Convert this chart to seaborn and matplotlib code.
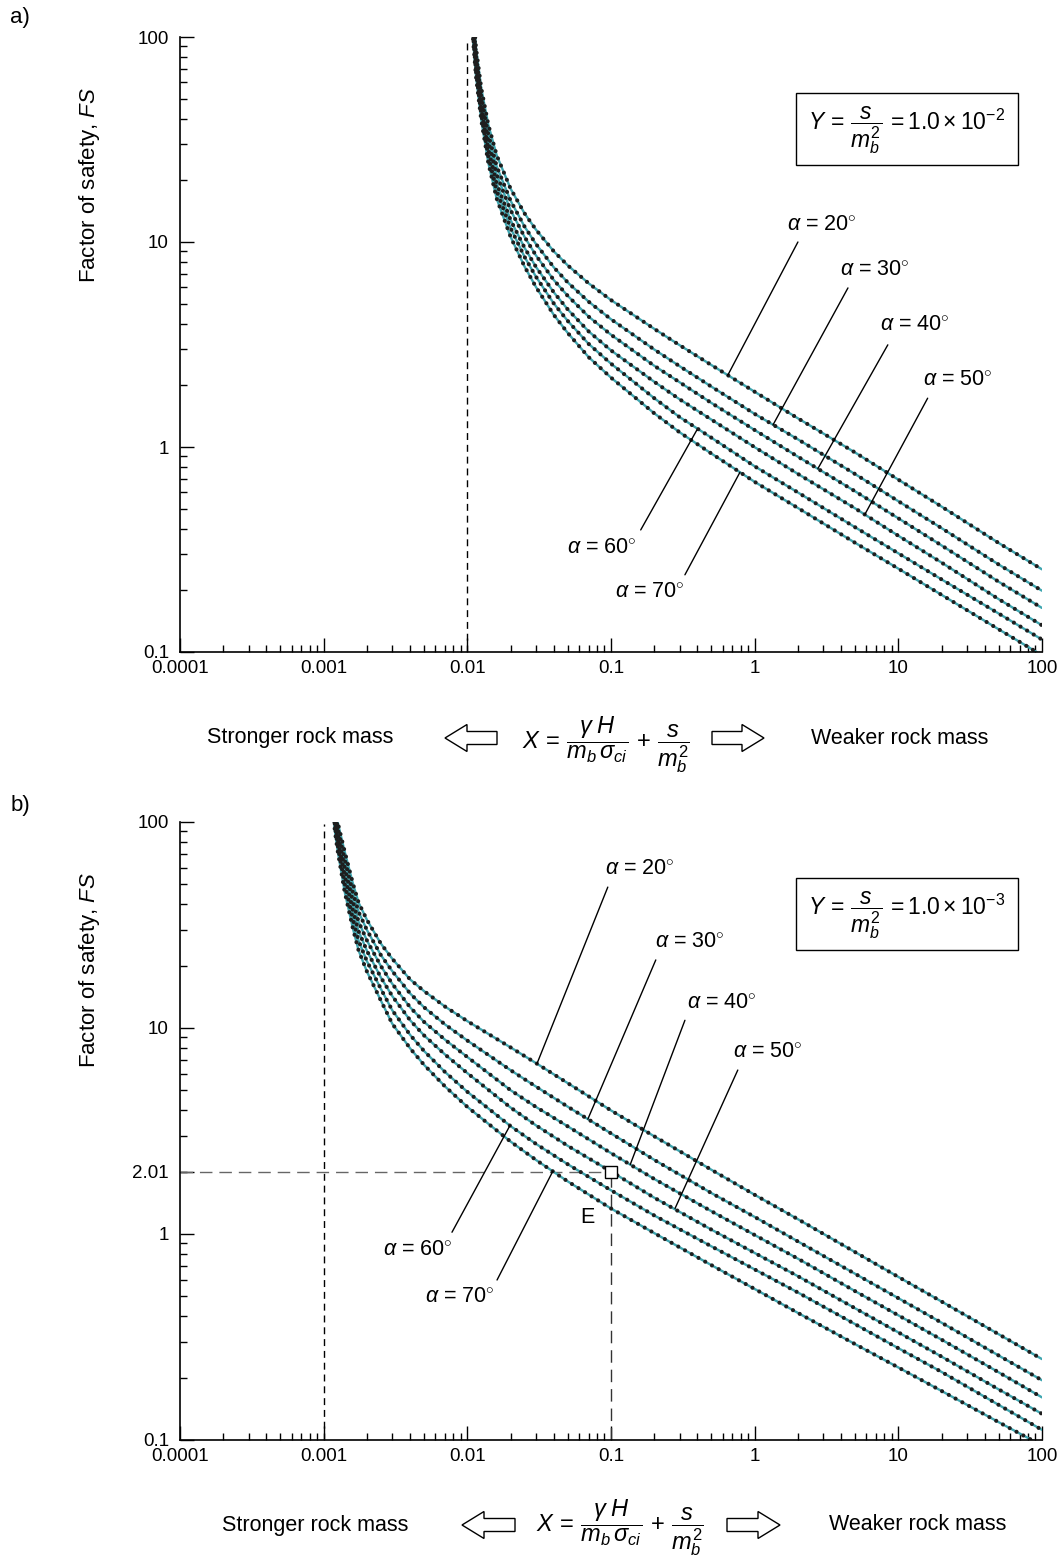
import matplotlib
matplotlib.use("Agg")
import pandas as pd
import matplotlib.pyplot as plt
import seaborn as sns
from matplotlib.patches import FancyArrow, Rectangle
from matplotlib.transforms import IdentityTransform
from matplotlib.ticker import FixedLocator, FixedFormatter, LogLocator, NullFormatter

sns.set_theme(style="white")
plt.rcParams['font.family'] = ['Liberation Sans', 'DejaVu Sans']
plt.rcParams['text.color'] = 'black'
plt.rcParams['mathtext.fontset'] = 'custom'
plt.rcParams['mathtext.rm'] = 'Liberation Sans'
plt.rcParams['mathtext.it'] = 'Liberation Sans:italic'
plt.rcParams['mathtext.bf'] = 'Liberation Sans:bold'

# ---- data ----
ALPHAS = [20, 30, 40, 50, 60, 70]

# a) Y = s/mb^2 = 1.0e-2
X_A = [0.0108, 0.011, 0.0115, 0.0125, 0.014, 0.016, 0.02, 0.025, 0.03, 0.04, 0.05, 0.07,
       0.1, 0.2, 0.3, 0.5, 1, 2, 5, 10, 20, 50, 100]
FS_A_20 = [157, 128, 88.1, 56.2, 37.3, 26.5, 18.2, 13.8, 11.5, 9.0, 7.69, 6.28,
           5.21, 3.77, 3.14, 2.51, 1.86, 1.38, 0.940, 0.693, 0.512, 0.340, 0.253]
FS_A_30 = [146, 119, 81.3, 51.4, 33.5, 23.4, 15.9, 11.9, 9.79, 7.52, 6.35, 5.11,
           4.20, 2.99, 2.48, 1.97, 1.45, 1.09, 0.738, 0.544, 0.402, 0.267, 0.199]
FS_A_40 = [137, 111, 76.2, 47.9, 30.8, 21.3, 14.3, 10.6, 8.61, 6.52, 5.46, 4.32,
           3.53, 2.49, 2.07, 1.64, 1.21, 0.897, 0.608, 0.449, 0.331, 0.220, 0.164]
FS_A_50 = [129, 105, 71.4, 44.6, 28.2, 19.3, 12.8, 9.38, 7.57, 5.68, 4.69, 3.66,
           2.96, 2.08, 1.71, 1.36, 0.998, 0.739, 0.502, 0.369, 0.273, 0.181, 0.135]
FS_A_60 = [123, 99.3, 67.6, 42.0, 26.2, 17.8, 11.7, 8.47, 6.78, 5.01, 4.12, 3.18,
           2.55, 1.73, 1.40, 1.11, 0.805, 0.600, 0.406, 0.303, 0.226, 0.154, 0.115]
FS_A_70 = [116, 94.0, 63.8, 39.4, 24.3, 16.3, 10.6, 7.60, 6.04, 4.41, 3.60, 2.74,
           2.18, 1.46, 1.18, 0.929, 0.676, 0.504, 0.341, 0.255, 0.190, 0.129, 0.0964]

# b) Y = s/mb^2 = 1.0e-3
X_B = [0.00115, 0.0012, 0.00125, 0.0014, 0.0016, 0.00175, 0.002, 0.0025, 0.003, 0.004,
       0.005, 0.007, 0.01, 0.02, 0.03, 0.05, 0.1, 0.2, 0.5, 1, 2, 5, 10, 20, 50, 100]
FS_B_20 = [158.5, 120, 100, 71.9, 50.1, 40.6, 33.5, 25.7, 21.7, 17.2, 15.1, 12.7, 10.8,
           8.05, 6.76, 5.40, 3.98, 2.98, 2.05, 1.55, 1.18, 0.817, 0.619, 0.470, 0.326, 0.247]
FS_B_30 = [150, 113, 94.0, 65.8, 45.3, 36.6, 29.9, 22.6, 18.9, 14.7, 12.6, 10.4, 8.69,
           6.24, 5.20, 4.15, 3.08, 2.29, 1.58, 1.21, 0.920, 0.641, 0.488, 0.371, 0.257, 0.195]
FS_B_40 = [142, 107, 88.1, 60.1, 41.0, 32.8, 26.6, 20.0, 16.4, 12.6, 10.7, 8.77, 7.23,
           4.99, 4.14, 3.33, 2.47, 1.85, 1.29, 0.989, 0.759, 0.528, 0.403, 0.307, 0.213, 0.161]
FS_B_50 = [134, 100, 82.8, 55.0, 37.1, 29.5, 23.7, 17.6, 14.3, 10.9, 9.20, 7.43, 6.04,
           4.11, 3.37, 2.68, 2.01, 1.50, 1.05, 0.809, 0.624, 0.436, 0.333, 0.254, 0.176, 0.134]
FS_B_60 = [127, 94.6, 77.6, 50.2, 33.6, 26.5, 21.1, 15.5, 12.2, 9.25, 7.73, 6.11, 4.90,
           3.34, 2.74, 2.18, 1.63, 1.23, 0.871, 0.673, 0.520, 0.365, 0.279, 0.214, 0.148, 0.112]
FS_B_70 = [120, 89.1, 72.9, 45.9, 30.3, 23.8, 18.8, 13.6, 10.5, 7.96, 6.62, 5.20, 4.14,
           2.81, 2.29, 1.80, 1.33, 1.01, 0.706, 0.541, 0.414, 0.292, 0.225, 0.173, 0.122, 0.094]

# worked example point E
E_X, E_FS = 0.1, 2.01

X_TICKS = [1e-4, 1e-3, 1e-2, 1e-1, 1, 10, 100]
X_TICKLABELS = ['0.0001', '0.001', '0.01', '0.1', '1', '10', '100']
Y_TICKS_A = [0.1, 1, 10, 100]
Y_TICKLABELS_A = ['0.1', '1', '10', '100']
Y_TICKS_B = [0.1, 1, 2.01, 10, 100]
Y_TICKLABELS_B = ['0.1', '1', '2.01', '10', '100']

TEAL = '#3fa6b0'
DOT = '#1e1e1e'
W, H = 1062, 1559


def fig_xy(px, py):
    """image pixel -> figure fraction"""
    return px / W, 1 - py / H


def draw_curves(ax, x, series):
    frames = [pd.DataFrame({'X': x, 'FS': fs, 'alpha': a}) for a, fs in zip(ALPHAS, series)]
    df = pd.concat(frames, ignore_index=True)
    sns.lineplot(data=df, x='X', y='FS', hue='alpha', palette=[TEAL] * 6,
                 estimator=None, sort=False, legend=False, linewidth=1.7, ax=ax)
    # the black dots sitting on every curve
    sns.lineplot(data=df, x='X', y='FS', hue='alpha', palette=[DOT] * 6,
                 estimator=None, sort=False, legend=False, linewidth=3.0,
                 linestyle=(0, (0.001, 1.85)), dash_capstyle='round', ax=ax)


def style_axes(ax, yticks, ylabels):
    ax.set_xscale('log')
    ax.set_yscale('log')
    ax.set_xlim(1e-4, 100)
    ax.set_ylim(0.1, 100)
    ax.xaxis.set_major_locator(FixedLocator(X_TICKS))
    ax.xaxis.set_major_formatter(FixedFormatter(X_TICKLABELS))
    ax.yaxis.set_major_locator(FixedLocator(yticks))
    ax.yaxis.set_major_formatter(FixedFormatter(ylabels))
    for axis in (ax.xaxis, ax.yaxis):
        axis.set_minor_locator(LogLocator(base=10, subs=range(2, 10), numticks=20))
        axis.set_minor_formatter(NullFormatter())
    ax.tick_params(which='both', direction='in', bottom=True, left=True, top=False, right=False,
                   color='black', width=1.0, labelsize=13.5, labelcolor='black')
    ax.tick_params(which='major', length=10)
    ax.tick_params(which='minor', length=5)
    ax.tick_params(axis='x', pad=6)
    ax.tick_params(axis='y', pad=8)
    for side in ('top', 'right'):
        ax.spines[side].set_visible(False)
    for side in ('left', 'bottom'):
        ax.spines[side].set_color('black')
        ax.spines[side].set_linewidth(1.2)
    ax.set_xlabel('')
    ax.set_ylabel('')
    ax.patch.set_alpha(0)


def alpha_labels(ax, items):
    for a, txt_xy, start, end in items:
        ax.annotate('', xy=end, xytext=start,
                    arrowprops=dict(arrowstyle='-', lw=1.0, color='black',
                                    shrinkA=0, shrinkB=0))
        ax.text(txt_xy[0], txt_xy[1], r'$\alpha$ = %d$^{\circ}$' % a,
                ha='center', va='center', fontsize=15.5)


def bottom_strip(fig, py, formula_dy, left_txt_x, arrow_l, formula_x, arrow_r, right_txt_x):
    fig.text(*fig_xy(left_txt_x, py), 'Stronger rock mass', ha='center', va='center', fontsize=15.5)
    fig.text(*fig_xy(right_txt_x, py), 'Weaker rock mass', ha='center', va='center', fontsize=15.5)
    fig.text(*fig_xy(formula_x, py + formula_dy),
             r'$X\,=\,\dfrac{\gamma\;H}{m_b\,\sigma_{ci}}\,+\,\dfrac{s}{m_b^2}$',
             ha='center', va='center', fontsize=17)
    dy = H - py
    for tail, tip in (arrow_l, arrow_r):
        fig.patches.append(FancyArrow(tail, dy, tip - tail, 0, width=13, head_width=27,
                                      head_length=22, length_includes_head=True,
                                      fc='white', ec='black', lw=1.0,
                                      transform=IdentityTransform()))


def y_box(fig, top, text):
    x0, x1 = 796, 1018
    fig.patches.append(Rectangle((x0, H - top - 72), x1 - x0, 72, fill=False,
                                 ec='black', lw=1.0, transform=IdentityTransform()))
    fig.text(*fig_xy((x0 + x1) / 2, top + 37), text, ha='center', va='center', fontsize=16.5)


fig = plt.figure(figsize=(W / 100, H / 100), dpi=100)
fig.patch.set_facecolor('white')

# ---------------- panel a ----------------
ax_a = fig.add_axes([180 / W, 1 - 652 / H, 862 / W, 615 / H])
ax_a.plot([0.01, 0.01], [0.1, 98], ls=(0, (5, 3.5)), color='black', lw=1.0)
draw_curves(ax_a, X_A, [FS_A_20, FS_A_30, FS_A_40, FS_A_50, FS_A_60, FS_A_70])
style_axes(ax_a, Y_TICKS_A, Y_TICKLABELS_A)
alpha_labels(ax_a, [
    (20, (2.94, 12.0), (2.0, 10.0), (0.65, 2.24)),
    (30, (6.87, 7.29), (4.46, 5.97), (1.34, 1.28)),
    (40, (13.0, 3.93), (8.45, 3.15), (2.75, 0.783)),
    (50, (25.9, 2.12), (16.0, 1.73), (5.85, 0.469)),
    (60, (0.0865, 0.321), (0.161, 0.394), (0.396, 1.21)),
    (70, (0.187, 0.196), (0.327, 0.238), (0.79, 0.753)),
])

# ---------------- panel b ----------------
ax_b = fig.add_axes([180 / W, 1 - 1440 / H, 862 / W, 618 / H])
ax_b.plot([0.001, 0.001], [0.1, 98], ls=(0, (5, 3.5)), color='black', lw=1.0)
ax_b.plot([1e-4, E_X], [E_FS, E_FS], ls=(0, (9, 5)), color='#666666', lw=1.0)
ax_b.plot([E_X, E_X], [0.1, E_FS], ls=(0, (9, 5)), color='#333333', lw=1.0)
draw_curves(ax_b, X_B, [FS_B_20, FS_B_30, FS_B_40, FS_B_50, FS_B_60, FS_B_70])
ax_b.plot([E_X], [E_FS], marker='s', ms=9, mfc='white', mec='black', mew=1.0, zorder=5)
ax_b.text(0.068, 1.20, 'E', ha='center', va='center', fontsize=15.5)
style_axes(ax_b, Y_TICKS_B, Y_TICKLABELS_B)
alpha_labels(ax_b, [
    (20, (0.159, 58.5), (0.095, 48.3), (0.0305, 6.7)),
    (30, (0.354, 25.9), (0.205, 21.4), (0.069, 3.61)),
    (40, (0.591, 13.2), (0.327, 10.9), (0.136, 2.17)),
    (50, (1.24, 7.64), (0.763, 6.25), (0.279, 1.33)),
    (60, (0.00453, 0.835), (0.00782, 1.02), (0.0198, 3.36)),
    (70, (0.0089, 0.494), (0.0161, 0.598), (0.0394, 2.02)),
])

# ---------------- figure-level text ----------------
fig.text(*fig_xy(20, 18), 'a)', ha='center', va='center', fontsize=16)
fig.text(*fig_xy(20, 805), 'b)', ha='center', va='center', fontsize=16)
fig.text(*fig_xy(90, 185), 'Factor of safety, $FS$', rotation=90, ha='center', va='center', fontsize=16)
fig.text(*fig_xy(90, 970), 'Factor of safety, $FS$', rotation=90, ha='center', va='center', fontsize=16)

y_box(fig, 93, r'$Y\,=\,\dfrac{s}{m_b^2}\,=1.0\times10^{-2}$')
y_box(fig, 878, r'$Y\,=\,\dfrac{s}{m_b^2}\,=1.0\times10^{-3}$')

bottom_strip(fig, 738, 7, 300, (497, 445), 606, (712, 764), 900)
bottom_strip(fig, 1525, 3, 315, (515, 462), 620, (727, 780), 918)

fig.savefig('out.png', dpi=100, facecolor='white')
